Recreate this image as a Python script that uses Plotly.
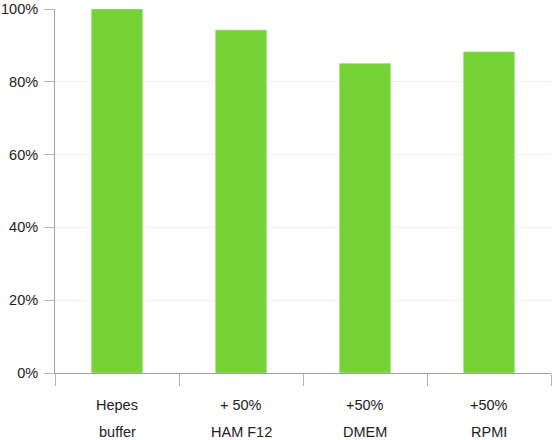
import plotly.graph_objects as go

# data
categories = ["Hepes buffer", "+ 50% HAM F12", "+50% DMEM", "+50% RPMI"]
label_line1 = ["Hepes", "+ 50%", "+50%", "+50%"]
label_line2 = ["buffer", "HAM F12", "DMEM", "RPMI"]
relative_activity = [100, 94.2, 85.0, 88.2]
y_ticks = [0, 20, 40, 60, 80, 100]
y_tick_text = ["0%", "20%", "40%", "60%", "80%", "100%"]

BAR_GREEN = "#76d335"
FONT = "Liberation Sans, Arial, sans-serif"
TEXT = "#222222"

fig = go.Figure(
    go.Bar(
        x=categories,
        y=relative_activity,
        marker=dict(color=BAR_GREEN, line=dict(color="#a8e08a", width=0.8)),
        hoverinfo="skip",
    )
)

# two-line category labels (the reference uses a wide line spacing)
annotations = []
for cat, top, bottom in zip(categories, label_line1, label_line2):
    annotations.append(dict(x=cat, y=0, xref="x", yref="paper", text=top,
                            showarrow=False, yanchor="middle", yshift=-32))
    annotations.append(dict(x=cat, y=0, xref="x", yref="paper", text=bottom,
                            showarrow=False, yanchor="middle", yshift=-59))

fig.update_layout(
    width=552,
    height=440,
    margin=dict(l=54, r=1, t=6, b=67),
    paper_bgcolor="white",
    plot_bgcolor="white",
    bargap=0.59,
    showlegend=False,
    font=dict(family=FONT, size=14.5, color=TEXT),
    annotations=annotations,
    xaxis=dict(
        type="category",
        showticklabels=False,
        ticks="outside",
        tickson="boundaries",
        ticklen=12,
        tickcolor="#b5b5b5",
        showline=True,
        linecolor="#a0a0a0",
        linewidth=1,
        showgrid=False,
        fixedrange=True,
    ),
    yaxis=dict(
        range=[0, 100],
        tickmode="array",
        tickvals=y_ticks,
        ticktext=y_tick_text,
        ticklabeloverflow="allow",
        ticklabelstandoff=3,
        ticks="outside",
        ticklen=10,
        tickcolor="#b5b5b5",
        showline=True,
        linecolor="#a0a0a0",
        linewidth=1,
        showgrid=True,
        gridcolor="#efefef",
        zeroline=False,
        tickfont=dict(size=14.5, color=TEXT),
        fixedrange=True,
    ),
)

# drop the default page margin so the figure sits at the window's corner
fig.write_html(
    "out.html",
    config={"displayModeBar": False},
    post_script="document.body.style.margin = '0';",
)
